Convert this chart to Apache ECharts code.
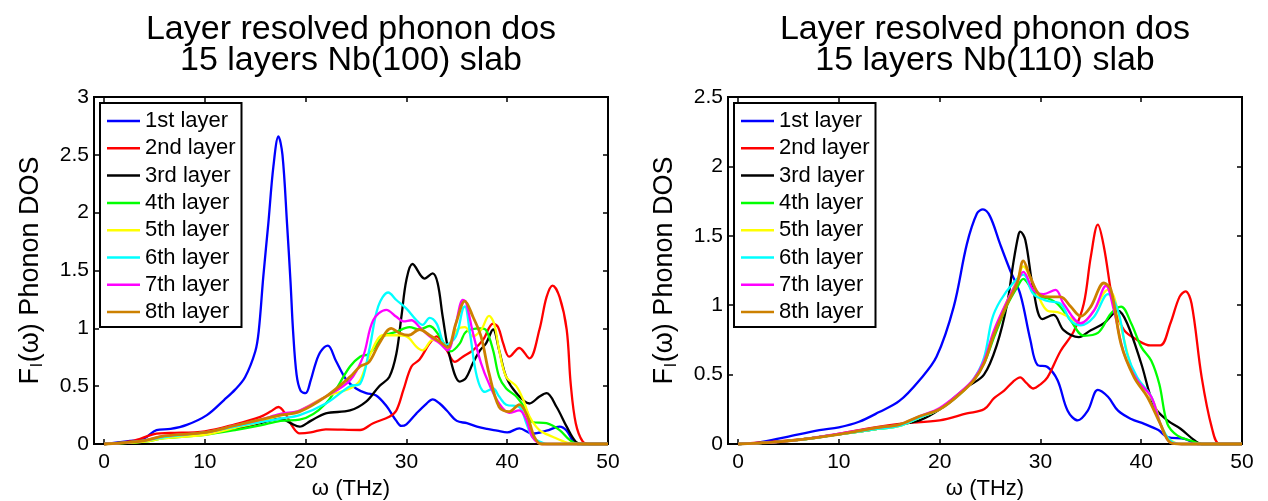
<!DOCTYPE html>
<html>
<head>
<meta charset="utf-8">
<script src="https://cdn.jsdelivr.net/npm/echarts@6/dist/echarts.min.js"></script>
<style>
  html, body { margin: 0; padding: 0; background: #fff; }
  #chart { width: 1268px; height: 501px; }
</style>
</head>
<body>
<div id="chart"></div>
<script>
// layer names and colours (MATLAB style)
const layerNames = ['1st layer', '2nd layer', '3rd layer', '4th layer', '5th layer', '6th layer', '7th layer', '8th layer'];
const layerColors = ['#0000ff', '#ff0000', '#000000', '#00ff00', '#ffff00', '#00ffff', '#ff00ff', '#cc8000'];
const xTicks = [0, 10, 20, 30, 40, 50];

// Nb(100) slab, [omega THz, F(omega)]
const nb100L1 = [[0,0],[2,0.02],[4,0.05],[5.2,0.12],[6.6,0.13],[8.2,0.165],[10.2,0.25],[11.9,0.38],[13,0.47],[14,0.58],[15,0.8],[15.35,0.98],[15.8,1.45],[16.3,1.91],[16.8,2.4],[17.3,2.66],[17.7,2.5],[18.15,1.91],[18.5,1.4],[18.75,0.98],[19.1,0.6],[19.5,0.46],[20,0.44],[20.5,0.55],[21,0.7],[21.5,0.8],[22.2,0.85],[23,0.72],[24,0.56],[25,0.48],[26,0.44],[27,0.42],[28,0.33],[29,0.2],[29.5,0.156],[30,0.17],[31,0.265],[32,0.35],[32.6,0.386],[33.3,0.35],[34,0.29],[35,0.2],[36,0.18],[37,0.15],[38,0.13],[39,0.115],[40,0.1],[41.2,0.135],[42.5,0.09],[43.9,0.115],[45.2,0.15],[45.9,0.115],[46.5,0.03],[47,0],[50,0]];
const nb100L2 = [[0,0],[3,0.03],[5.2,0.09],[6.5,0.095],[10,0.11],[13,0.17],[15.5,0.235],[16.5,0.28],[17.3,0.32],[18,0.26],[18.7,0.15],[19.4,0.092],[20.5,0.1],[22,0.127],[25.4,0.121],[26.7,0.18],[28.3,0.236],[29,0.29],[29.7,0.467],[30.5,0.67],[31.3,0.73],[32.3,0.87],[33,0.93],[34,0.81],[34.8,0.71],[35.6,0.755],[36.6,0.81],[37.6,0.9],[38.6,1.04],[39.1,1.01],[39.6,0.87],[40.2,0.755],[41.2,0.83],[42.2,0.74],[43.2,0.99],[43.9,1.27],[44.5,1.37],[45.2,1.27],[45.9,0.99],[46.3,0.52],[46.8,0.18],[47.5,0.02],[48.2,0],[50,0]];
const nb100L3 = [[0,0],[4,0.03],[6,0.06],[10,0.09],[13,0.13],[15.5,0.18],[17.5,0.22],[18.5,0.18],[19.4,0.15],[20.5,0.2],[22,0.265],[24.4,0.29],[26,0.366],[27.3,0.5],[28.3,0.58],[29,0.78],[29.5,1.1],[30,1.42],[30.6,1.556],[31.8,1.43],[32.6,1.475],[33.1,1.39],[33.6,1.1],[34.3,0.755],[35.3,0.54],[35.9,0.57],[36.6,0.7],[37.3,0.81],[37.9,0.87],[38.6,0.99],[39.2,0.81],[39.9,0.58],[40.9,0.44],[42.2,0.35],[43.2,0.41],[43.9,0.44],[44.9,0.32],[45.9,0.15],[46.8,0.02],[47.5,0],[50,0]];
const nb100L4 = [[0,0],[4,0.02],[6,0.05],[10,0.08],[13,0.12],[15.5,0.16],[17.5,0.2],[19.4,0.21],[22,0.35],[24.4,0.67],[25.4,0.755],[26.3,0.78],[27.7,0.93],[29,0.97],[30.3,1.01],[31.3,0.99],[32.3,1.02],[33.3,0.93],[34.4,0.8],[35.3,0.87],[35.9,0.97],[37.3,1.0],[37.9,0.985],[38.6,0.81],[39.2,0.58],[39.9,0.48],[40.9,0.41],[41.9,0.29],[42.5,0.19],[43.9,0.18],[45.2,0.12],[46.2,0.035],[47,0],[50,0]];
const nb100L5 = [[0,0],[4,0.02],[6,0.05],[10,0.08],[13,0.14],[15.5,0.19],[17.5,0.25],[19.4,0.29],[22,0.41],[24.4,0.48],[25.4,0.55],[26.3,0.755],[27.7,0.94],[29,0.94],[30,0.93],[31,0.84],[31.6,0.81],[32.6,0.9],[33.3,0.885],[34.1,0.83],[35,0.985],[35.8,1.01],[36.6,0.93],[37.4,0.985],[38.2,1.107],[38.7,1.04],[39.2,0.81],[39.9,0.58],[40.9,0.5],[41.6,0.38],[42.2,0.24],[43.2,0.12],[44.5,0.063],[46,0.01],[47,0],[50,0]];
const nb100L6 = [[0,0],[4,0.03],[6,0.06],[10,0.1],[13,0.15],[15.5,0.19],[17.5,0.22],[19.4,0.25],[22,0.35],[24.4,0.5],[25.4,0.52],[26.3,0.81],[27.2,1.19],[28.2,1.31],[29,1.245],[30,1.17],[31,1.07],[31.6,1.03],[32.3,1.09],[33,1.04],[33.9,0.856],[34.9,0.93],[35.6,1.17],[35.8,1.19],[36.3,0.96],[37,0.58],[37.8,0.45],[38.6,0.48],[39.2,0.41],[39.9,0.34],[41.2,0.32],[41.9,0.18],[42.5,0.06],[43.5,0.01],[44,0],[50,0]];
const nb100L7 = [[0,0],[4,0.03],[6,0.07],[10,0.1],[13,0.16],[15.5,0.21],[17.5,0.26],[19.4,0.29],[22,0.41],[24.4,0.55],[25.7,0.755],[26.7,1.07],[28,1.16],[29,1.1],[29.7,1.06],[30.5,1.07],[31.3,1.01],[32.3,0.93],[33.3,0.87],[34.1,0.81],[34.9,1.04],[35.6,1.245],[35.9,1.23],[36.6,0.96],[37.4,0.7],[38.2,0.52],[39.2,0.35],[40.2,0.27],[41.2,0.29],[41.9,0.21],[42.5,0.06],[43.5,0],[50,0]];
const nb100L8 = [[0,0],[4,0.03],[6,0.07],[10,0.1],[13,0.16],[15.5,0.21],[17.5,0.25],[19.4,0.28],[22,0.41],[24.4,0.58],[25.4,0.67],[26.3,0.71],[27.3,0.87],[28.5,1.0],[29.3,0.96],[30.2,0.94],[31.3,0.99],[32.3,0.94],[33.3,0.885],[34.1,0.836],[34.9,1.04],[35.8,1.236],[36.6,1.1],[37.4,0.93],[38.2,0.61],[39.2,0.32],[40.2,0.28],[41.2,0.34],[42,0.24],[42.7,0.06],[43.4,0],[50,0]];

// Nb(110) slab
const nb110L1 = [[0,0],[2,0.01],[4.75,0.05],[8.07,0.1],[10,0.12],[12,0.16],[14,0.23],[16,0.31],[18,0.46],[19.7,0.63],[21.4,0.99],[22.7,1.44],[23.7,1.66],[24.3,1.69],[25,1.64],[26,1.44],[27,1.25],[28,1.08],[29,0.75],[29.7,0.57],[30.7,0.555],[31.7,0.46],[32.7,0.24],[33.7,0.17],[34.7,0.24],[35.7,0.39],[36.7,0.34],[37.7,0.24],[39,0.18],[40.3,0.145],[41.7,0.1],[42.6,0.05],[44.3,0.037],[45.6,0],[50,0]];
const nb110L2 = [[0,0],[4,0.02],[8,0.05],[12,0.1],[16,0.145],[20,0.17],[22.7,0.22],[24.4,0.25],[25.4,0.33],[26.4,0.385],[27.3,0.45],[28,0.48],[28.6,0.44],[29.3,0.4],[30,0.43],[30.7,0.48],[32,0.67],[33.3,0.81],[34.3,1.01],[35,1.35],[35.7,1.58],[36.3,1.42],[37.3,0.99],[38.3,0.82],[39.6,0.75],[40.9,0.71],[41.9,0.71],[42.9,0.87],[43.8,1.06],[44.4,1.1],[45,1.01],[46,0.48],[47,0.12],[47.8,0],[50,0]];
const nb110L3 = [[0,0],[3,0.01],[6,0.03],[10,0.07],[14,0.11],[16,0.14],[18,0.17],[20,0.25],[22.7,0.41],[24.4,0.5],[25.7,0.72],[26.7,1.01],[27.3,1.3],[27.8,1.5],[28,1.53],[28.5,1.47],[29.3,1.11],[30.2,0.9],[31.3,0.93],[32.3,0.82],[33.8,0.77],[35,0.82],[36.3,0.87],[37.7,0.96],[38.6,0.87],[40,0.58],[41.3,0.27],[42.6,0.17],[43.9,0.11],[45.3,0.025],[46,0],[50,0]];
const nb110L4 = [[0,0],[3,0.01],[6,0.03],[10,0.07],[14,0.11],[16,0.13],[18,0.19],[20,0.25],[22,0.36],[23.4,0.46],[24.4,0.58],[25.4,0.77],[26.7,1.0],[27.7,1.13],[28.3,1.19],[29,1.13],[29.7,1.06],[30.7,1.05],[31.7,1.01],[33,0.89],[34.3,0.78],[35.7,0.8],[37,0.94],[38,0.99],[39,0.87],[40,0.7],[41,0.6],[41.8,0.43],[42.6,0.145],[43.6,0.06],[44.9,0.025],[46,0],[50,0]];
const nb110L5 = [[0,0],[3,0.01],[6,0.03],[10,0.07],[14,0.11],[16,0.13],[18,0.19],[20,0.25],[22,0.36],[23.4,0.46],[24.4,0.6],[25.4,0.8],[26.7,1.03],[27.7,1.18],[28.3,1.28],[29,1.2],[29.7,1.08],[30.7,0.96],[31.7,0.95],[32.7,0.92],[34,0.87],[35.3,0.96],[36.7,1.11],[37.3,1.06],[38.3,0.75],[39.3,0.5],[40.3,0.41],[41.3,0.29],[42.3,0.07],[43.3,0.01],[44,0],[50,0]];
const nb110L6 = [[0,0],[3,0.01],[6,0.03],[10,0.07],[14,0.11],[16,0.13],[18,0.19],[20,0.25],[22,0.36],[23.4,0.47],[24.4,0.62],[25.2,0.9],[26,1.03],[27.3,1.16],[28.3,1.22],[29.3,1.08],[30.7,1.03],[32,1.01],[33,0.89],[34,0.855],[35.3,0.915],[36.7,1.08],[37.7,0.96],[38.6,0.65],[39.6,0.48],[41,0.34],[41.9,0.145],[42.9,0.025],[44,0],[50,0]];
const nb110L7 = [[0,0],[3,0.01],[6,0.03],[10,0.075],[14,0.12],[16,0.14],[18,0.2],[20,0.26],[22,0.37],[23.4,0.47],[24.4,0.6],[25.4,0.82],[26.7,1.03],[27.7,1.17],[28.3,1.24],[29.3,1.11],[30.3,1.08],[31.5,1.11],[32.3,1.01],[34,0.87],[35.3,0.96],[36.5,1.14],[37.3,0.96],[38.3,0.65],[39.6,0.46],[41,0.34],[41.9,0.145],[42.9,0.01],[44,0],[50,0]];
const nb110L8 = [[0,0],[3,0.01],[6,0.03],[10,0.07],[14,0.12],[16,0.14],[18,0.2],[20,0.25],[22,0.36],[23.4,0.46],[24.4,0.58],[25.4,0.79],[26.7,1.01],[27.7,1.16],[28.3,1.32],[29,1.2],[30,1.07],[31,1.06],[32,1.06],[33,0.99],[34,0.92],[35,0.99],[36.3,1.16],[37,1.11],[38,0.72],[39.3,0.48],[40.6,0.34],[41.9,0.145],[42.9,0.01],[44,0],[50,0]];

const nb100 = [nb100L1, nb100L2, nb100L3, nb100L4, nb100L5, nb100L6, nb100L7, nb100L8];
const nb110 = [nb110L1, nb110L2, nb110L3, nb110L4, nb110L5, nb110L6, nb110L7, nb110L8];

const FONT = 'Liberation Sans, Arial, Helvetica, sans-serif';
const tickStyle = { color: '#000', width: 1.5 };

function xAxes(gridIndex) {
  // bottom axis with labels + top axis for mirrored ticks
  return [
    {
      type: 'value', gridIndex: gridIndex, position: 'bottom', min: -1, max: 50,
      name: 'ω (THz)', nameLocation: 'middle', nameGap: 34,
      nameTextStyle: { fontSize: 22, color: '#000', fontFamily: FONT },
      axisLine: { show: false, onZero: false },
      axisTick: { inside: true, length: 5, customValues: xTicks, lineStyle: tickStyle },
      axisLabel: { customValues: xTicks, fontSize: 21, color: '#000', fontFamily: FONT, margin: 8 },
      splitLine: { show: false }
    },
    {
      type: 'value', gridIndex: gridIndex, position: 'top', min: -1, max: 50,
      axisLine: { show: false, onZero: false },
      axisTick: { inside: true, length: 5, customValues: xTicks, lineStyle: tickStyle },
      axisLabel: { show: false },
      splitLine: { show: false }
    }
  ];
}

function yAxes(gridIndex, max) {
  return [
    {
      type: 'value', gridIndex: gridIndex, position: 'left', min: 0, max: max, interval: 0.5,
      name: '{a|F}{s|l}{a|(ω) Phonon DOS}', nameLocation: 'middle', nameGap: 48,
      nameTextStyle: {
        color: '#000', fontFamily: FONT,
        rich: {
          a: { fontSize: 27, color: '#000', fontFamily: FONT },
          s: { fontSize: 17, color: '#000', fontFamily: FONT, verticalAlign: 'top', padding: [14, 1, 0, 1] }
        }
      },
      axisLine: { show: false, onZero: false },
      axisTick: { inside: true, length: 5, lineStyle: tickStyle },
      axisLabel: { fontSize: 21, color: '#000', fontFamily: FONT, margin: 5 },
      splitLine: { show: false }
    },
    {
      type: 'value', gridIndex: gridIndex, position: 'right', min: 0, max: max, interval: 0.5,
      axisLine: { show: false, onZero: false },
      axisTick: { inside: true, length: 5, lineStyle: tickStyle },
      axisLabel: { show: false },
      splitLine: { show: false }
    }
  ];
}

function makeSeries(sets, gridIndex) {
  return sets.map(function (d, i) {
    return {
      name: layerNames[i],
      type: 'line',
      xAxisIndex: gridIndex * 2,
      yAxisIndex: gridIndex * 2,
      data: d,
      smooth: 0.35,
      symbol: 'none',
      clip: false,
      color: layerColors[i],
      lineStyle: { width: i === 7 ? 2.8 : 2.3, color: layerColors[i] },
      animation: false
    };
  });
}

function legend(left) {
  return {
    orient: 'vertical', left: left, top: 103,
    data: layerNames,
    icon: 'rect',
    itemWidth: 33, itemHeight: 2.5, itemGap: 5.3,
    padding: [7, 6, 4, 7],
    borderColor: '#000', borderWidth: 2, backgroundColor: '#fff',
    selectedMode: false,
    textStyle: { fontSize: 22, lineHeight: 22, color: '#000', fontFamily: FONT }
  };
}

function titleText(cx, line1, line2) {
  const st = { fill: '#000', font: '34px ' + FONT, align: 'center', verticalAlign: 'middle' };
  return [
    { type: 'text', x: cx, y: 30, style: Object.assign({ text: line1 }, st) },
    { type: 'text', x: cx, y: 61, style: Object.assign({ text: line2 }, st) }
  ];
}

const chart = echarts.init(document.getElementById('chart'));
chart.setOption({
  backgroundColor: '#fff',
  animation: false,
  grid: [
    { left: 94, top: 97, width: 514, height: 347, show: true, borderColor: '#000', borderWidth: 2, backgroundColor: 'transparent', outerBoundsMode: 'none', containLabel: false },
    { left: 728, top: 97, width: 514, height: 347, show: true, borderColor: '#000', borderWidth: 2, backgroundColor: 'transparent', outerBoundsMode: 'none', containLabel: false }
  ],
  xAxis: xAxes(0).concat(xAxes(1)),
  yAxis: yAxes(0, 3).concat(yAxes(1, 2.5)),
  legend: [legend(100), legend(734)],
  graphic: titleText(351, 'Layer resolved phonon dos', '15 layers Nb(100) slab')
    .concat(titleText(985, 'Layer resolved phonon dos', '15 layers Nb(110) slab')),
  series: makeSeries(nb100, 0).concat(makeSeries(nb110, 1))
});
</script>
</body>
</html>
